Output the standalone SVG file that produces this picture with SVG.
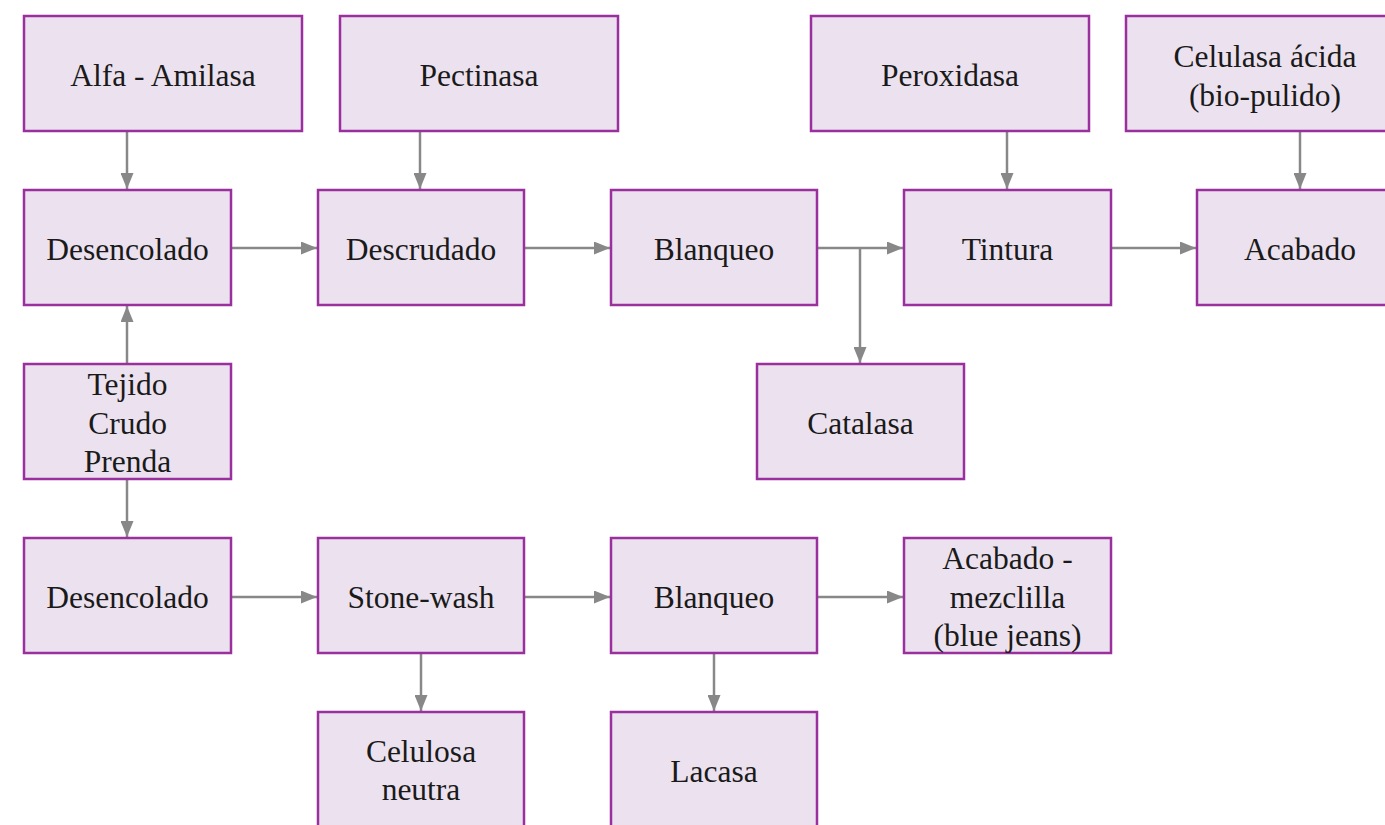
<svg xmlns="http://www.w3.org/2000/svg" width="1385" height="825" viewBox="0 0 1385 825">
<style>
.box{fill:#ECE2EF;stroke:#9A2F9E;stroke-width:2.5}
.t{font-family:"Liberation Serif","DejaVu Serif",serif;font-size:31.5px;fill:#1a1a1a;text-anchor:middle}
.c{stroke:#888888;stroke-width:2.5;fill:none}
</style>
<defs>
<marker id="ah" markerUnits="userSpaceOnUse" markerWidth="16" markerHeight="13" viewBox="0 0 16 13" refX="16" refY="6.5" orient="auto">
<path d="M0,0 L16,6.5 L0,13 z" fill="#888888"/>
</marker>
</defs>
<rect width="1385" height="825" fill="#ffffff"/>
<g id="connectors">
<line class="c" x1="127" y1="131" x2="127" y2="189" marker-end="url(#ah)"/>
<line class="c" x1="420" y1="131" x2="420" y2="189" marker-end="url(#ah)"/>
<line class="c" x1="1007" y1="131" x2="1007" y2="189" marker-end="url(#ah)"/>
<line class="c" x1="1300" y1="131" x2="1300" y2="189" marker-end="url(#ah)"/>
<line class="c" x1="231" y1="248" x2="317" y2="248" marker-end="url(#ah)"/>
<line class="c" x1="524" y1="248" x2="610" y2="248" marker-end="url(#ah)"/>
<line class="c" x1="817" y1="248" x2="903" y2="248" marker-end="url(#ah)"/>
<line class="c" x1="860" y1="248" x2="860" y2="363" marker-end="url(#ah)"/>
<line class="c" x1="1111" y1="248" x2="1196" y2="248" marker-end="url(#ah)"/>
<line class="c" x1="127" y1="364" x2="127" y2="306" marker-end="url(#ah)"/>
<line class="c" x1="127" y1="479" x2="127" y2="537" marker-end="url(#ah)"/>
<line class="c" x1="231" y1="597" x2="317" y2="597" marker-end="url(#ah)"/>
<line class="c" x1="524" y1="597" x2="610" y2="597" marker-end="url(#ah)"/>
<line class="c" x1="817" y1="597" x2="903" y2="597" marker-end="url(#ah)"/>
<line class="c" x1="421" y1="654" x2="421" y2="711" marker-end="url(#ah)"/>
<line class="c" x1="714" y1="654" x2="714" y2="711" marker-end="url(#ah)"/>
</g>
<g id="alfa"><rect class="box" x="24" y="16" width="278" height="115"/><text class="t" x="163" y="86">Alfa - Amilasa</text></g>
<g id="pectinasa"><rect class="box" x="340" y="16" width="278" height="115"/><text class="t" x="479" y="86">Pectinasa</text></g>
<g id="peroxidasa"><rect class="box" x="811" y="16" width="278" height="115"/><text class="t" x="950" y="86">Peroxidasa</text></g>
<g id="celulasa"><rect class="box" x="1126" y="16" width="278" height="115"/><text class="t" x="1265" y="67">Celulasa ácida</text><text class="t" x="1265" y="106">(bio-pulido)</text></g>
<g id="desencolado1"><rect class="box" x="24" y="190" width="207" height="115"/><text class="t" x="127.5" y="260">Desencolado</text></g>
<g id="descrudado"><rect class="box" x="318" y="190" width="206" height="115"/><text class="t" x="421" y="260">Descrudado</text></g>
<g id="blanqueo1"><rect class="box" x="611" y="190" width="206" height="115"/><text class="t" x="714" y="260">Blanqueo</text></g>
<g id="tintura"><rect class="box" x="904" y="190" width="207" height="115"/><text class="t" x="1007.5" y="260">Tintura</text></g>
<g id="acabado"><rect class="box" x="1197" y="190" width="207" height="115"/><text class="t" x="1300" y="260">Acabado</text></g>
<g id="tejido"><rect class="box" x="24" y="364" width="207" height="115"/><text class="t" x="127.5" y="395">Tejido</text><text class="t" x="127.5" y="434">Crudo</text><text class="t" x="127.5" y="472">Prenda</text></g>
<g id="catalasa"><rect class="box" x="757" y="364" width="207" height="115"/><text class="t" x="860.5" y="434">Catalasa</text></g>
<g id="desencolado2"><rect class="box" x="24" y="538" width="207" height="115"/><text class="t" x="127.5" y="608">Desencolado</text></g>
<g id="stonewash"><rect class="box" x="318" y="538" width="206" height="115"/><text class="t" x="421" y="608">Stone-wash</text></g>
<g id="blanqueo2"><rect class="box" x="611" y="538" width="206" height="115"/><text class="t" x="714" y="608">Blanqueo</text></g>
<g id="mezclilla"><rect class="box" x="904" y="538" width="207" height="115"/><text class="t" x="1007.5" y="569">Acabado -</text><text class="t" x="1007.5" y="608">mezclilla</text><text class="t" x="1007.5" y="646">(blue jeans)</text></g>
<g id="celulosa"><rect class="box" x="318" y="712" width="206" height="115"/><text class="t" x="421" y="762">Celulosa</text><text class="t" x="421" y="800">neutra</text></g>
<g id="lacasa"><rect class="box" x="611" y="712" width="206" height="115"/><text class="t" x="714" y="782">Lacasa</text></g>
</svg>
